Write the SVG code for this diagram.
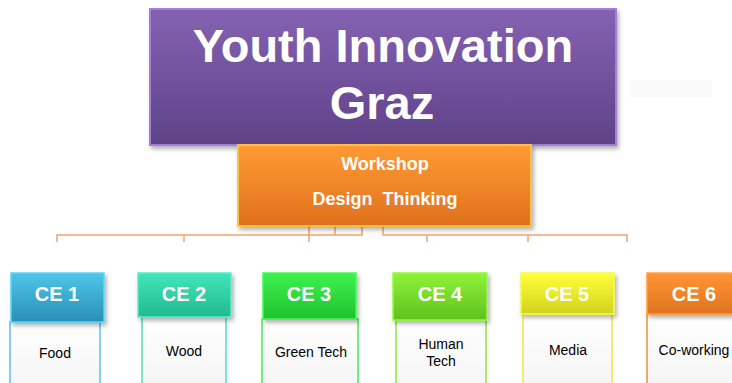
<svg xmlns="http://www.w3.org/2000/svg" width="732" height="383" viewBox="0 0 732 383">
<defs>
<linearGradient id="gPurple" x1="0" y1="0" x2="0" y2="1"><stop offset="0" stop-color="#8462b2"/><stop offset="1" stop-color="#5f4288"/></linearGradient>
<linearGradient id="gOrange" x1="0" y1="0" x2="0" y2="1"><stop offset="0" stop-color="#ff9a35"/><stop offset="1" stop-color="#e0711c"/></linearGradient>
<linearGradient id="g1" x1="0" y1="0" x2="0" y2="1"><stop offset="0" stop-color="#4ec6e8"/><stop offset="1" stop-color="#2a8fb6"/></linearGradient>
<linearGradient id="g2" x1="0" y1="0" x2="0" y2="1"><stop offset="0" stop-color="#42e6bb"/><stop offset="1" stop-color="#22b98f"/></linearGradient>
<linearGradient id="g3" x1="0" y1="0" x2="0" y2="1"><stop offset="0" stop-color="#3ef24f"/><stop offset="1" stop-color="#1fc22e"/></linearGradient>
<linearGradient id="g4" x1="0" y1="0" x2="0" y2="1"><stop offset="0" stop-color="#8ff23a"/><stop offset="1" stop-color="#5fc21c"/></linearGradient>
<linearGradient id="g5" x1="0" y1="0" x2="0" y2="1"><stop offset="0" stop-color="#ffff3c"/><stop offset="1" stop-color="#d2d21e"/></linearGradient>
<linearGradient id="g6" x1="0" y1="0" x2="0" y2="1"><stop offset="0" stop-color="#ff9535"/><stop offset="1" stop-color="#e0731e"/></linearGradient>
<linearGradient id="gBody" x1="0" y1="0" x2="0" y2="1"><stop offset="0" stop-color="#ffffff"/><stop offset="1" stop-color="#f4f4f4"/></linearGradient>
<filter id="sh" x="-10%" y="-10%" width="130%" height="130%"><feDropShadow dx="2" dy="3" stdDeviation="2" flood-color="#000" flood-opacity="0.3"/></filter>
</defs>
<style>
.title{font-family:"Liberation Sans",Arial,sans-serif;font-weight:bold;fill:#fff;text-anchor:middle}
.hdr{font-family:"Liberation Sans",Arial,sans-serif;font-weight:bold;font-size:20px;fill:#fff;text-anchor:middle}
.body{font-family:"Liberation Sans",Arial,sans-serif;font-size:14px;fill:#000;text-anchor:middle}
.conn{fill:none;stroke:#f4a46a;stroke-width:1.5}
</style>
<rect x="630" y="80" width="82" height="17" fill="#fafafa"/>
<g id="connectors">
<path class="conn" d="M57,242 V235 H362 V226 M184,242 V235 M309,242 V226 M335,226 V235 M383,226 V235 H627 V242 M427,235 V242 M528,235 V242"/>
</g>
<g id="root">
<rect x="150" y="9" width="466" height="136" fill="url(#gPurple)" stroke="#a27fd6" stroke-width="2" filter="url(#sh)"/>
<text class="title" x="383" y="62" font-size="47">Youth Innovation</text>
<text class="title" x="382" y="119" font-size="47">Graz</text>
</g>
<g id="workshop">
<rect x="238" y="145" width="293" height="81" fill="url(#gOrange)" stroke="#ffc145" stroke-width="2" filter="url(#sh)"/>
<text class="title" x="385" y="170" font-size="18">Workshop</text>
<text class="title" x="385" y="205" font-size="18" xml:space="preserve">Design  Thinking</text>
</g>
<g id="ce1">
<rect x="10" y="322" width="90" height="70" fill="url(#gBody)" stroke="#5cc4e4" stroke-width="1.5"/>
<rect x="11" y="273" width="93" height="49" fill="url(#g1)" stroke="#60d4f4" stroke-width="1.5" filter="url(#sh)"/>
<text class="hdr" x="57" y="301">CE 1</text>
<text class="body" x="55" y="358">Food</text>
</g>
<g id="ce2">
<rect x="142" y="317" width="84" height="75" fill="url(#gBody)" stroke="#50e0b8" stroke-width="1.5"/>
<rect x="138" y="273" width="93" height="44" fill="url(#g2)" stroke="#56f2c8" stroke-width="1.5" filter="url(#sh)"/>
<text class="hdr" x="184" y="301">CE 2</text>
<text class="body" x="184" y="356">Wood</text>
</g>
<g id="ce3">
<rect x="262" y="319" width="96" height="73" fill="url(#gBody)" stroke="#48ea58" stroke-width="1.5"/>
<rect x="263" y="273" width="93" height="46" fill="url(#g3)" stroke="#48f858" stroke-width="1.5" filter="url(#sh)"/>
<text class="hdr" x="309" y="301">CE 3</text>
<text class="body" x="311" y="357">Green Tech</text>
</g>
<g id="ce4">
<rect x="396" y="320" width="90" height="72" fill="url(#gBody)" stroke="#8ee83e" stroke-width="1.5"/>
<rect x="393" y="273" width="94" height="47" fill="url(#g4)" stroke="#98f848" stroke-width="1.5" filter="url(#sh)"/>
<text class="hdr" x="440" y="301">CE 4</text>
<text class="body" x="441" y="349">Human</text>
<text class="body" x="441" y="366">Tech</text>
</g>
<g id="ce5">
<rect x="523" y="314" width="89" height="78" fill="url(#gBody)" stroke="#eaea40" stroke-width="1.5"/>
<rect x="521" y="273" width="93" height="41" fill="url(#g5)" stroke="#f8f850" stroke-width="1.5" filter="url(#sh)"/>
<text class="hdr" x="567" y="301">CE 5</text>
<text class="body" x="568" y="355">Media</text>
</g>
<g id="ce6">
<rect x="647" y="314" width="92" height="78" fill="url(#gBody)" stroke="#f0903a" stroke-width="1.5"/>
<rect x="647" y="273" width="92" height="41" fill="url(#g6)" stroke="#ffa048" stroke-width="1.5" filter="url(#sh)"/>
<text class="hdr" x="694" y="301">CE 6</text>
<text class="body" x="694" y="355">Co-working</text>
</g>
</svg>
